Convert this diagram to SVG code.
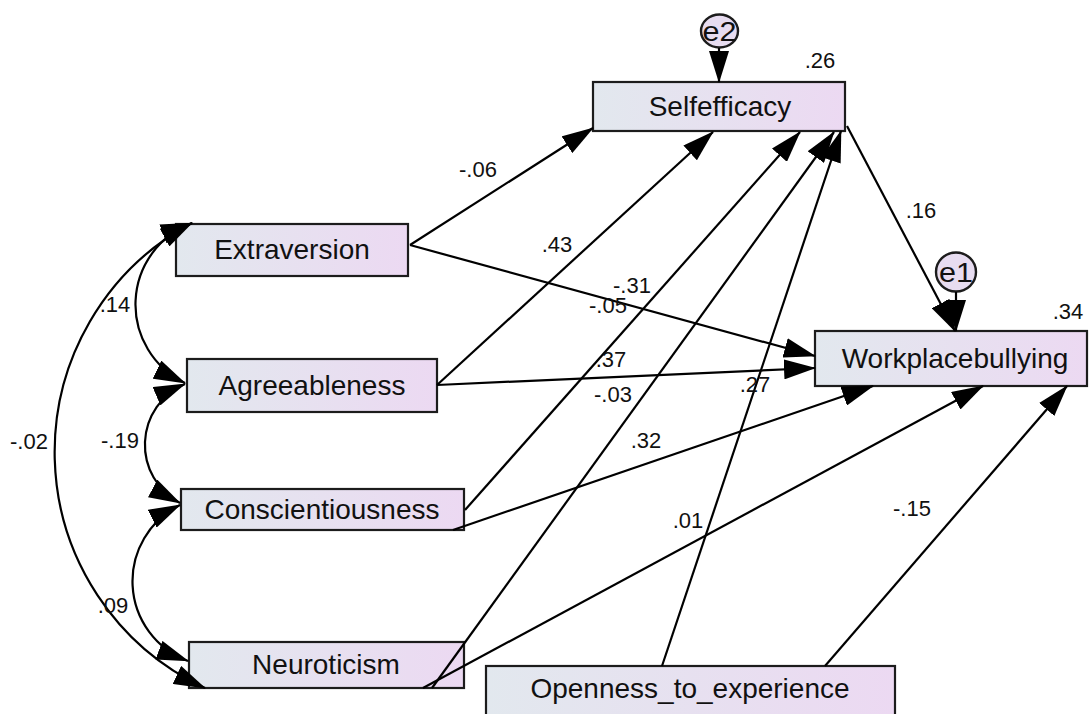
<svg xmlns="http://www.w3.org/2000/svg" width="1090" height="714" viewBox="0 0 1090 714">
<defs>
<linearGradient id="boxfill" x1="0" y1="0" x2="1" y2="0">
<stop offset="0" stop-color="#e2e8ee"/>
<stop offset="1" stop-color="#ecd9f2"/>
</linearGradient>
<marker id="ah" viewBox="0 0 32 20" refX="31" refY="10" markerWidth="32" markerHeight="20" markerUnits="userSpaceOnUse" orient="auto-start-reverse">
<path d="M0,0 L32,10 L0,20 z" fill="#000"/>
</marker>
<style>
.box{fill:url(#boxfill);stroke:#1c1c1c;stroke-width:2.2}
.err{fill:#e7dcf0;stroke:#1c1c1c;stroke-width:2.4}
.lbl{font-family:"Liberation Sans",Arial,sans-serif;font-size:28px;fill:#111;text-anchor:middle}
.num{font-family:"Liberation Sans",Arial,sans-serif;font-size:22px;fill:#111;text-anchor:middle}
.elbl{font-family:"Liberation Sans",Arial,sans-serif;font-size:27px;fill:#111;text-anchor:middle}
.path{fill:none;stroke:#000;stroke-width:2.2;marker-end:url(#ah)}
.cov{fill:none;stroke:#000;stroke-width:2.2;marker-start:url(#ah);marker-end:url(#ah)}
</style>
</defs>
<rect width="1090" height="714" fill="#fff"/>

<g id="e2">
<ellipse class="err" cx="719.5" cy="31" rx="18.5" ry="16.5"/>
<text class="elbl" x="719.5" y="41" textLength="34" lengthAdjust="spacingAndGlyphs">e2</text>
</g>
<g id="e1">
<ellipse class="err" cx="956" cy="272" rx="20" ry="19.5"/>
<text class="elbl" x="956" y="282" textLength="34" lengthAdjust="spacingAndGlyphs">e1</text>
</g>

<g id="Selfefficacy">
<rect class="box" x="593" y="82" width="252" height="49"/>
<text class="lbl" x="720" y="116">Selfefficacy</text>
<text class="num" x="820" y="68">.26</text>
</g>
<g id="Extraversion">
<rect class="box" x="176" y="224" width="232" height="52"/>
<text class="lbl" x="292" y="259">Extraversion</text>
</g>
<g id="Agreeableness">
<rect class="box" x="187" y="359" width="250" height="53"/>
<text class="lbl" x="312" y="395">Agreeableness</text>
</g>
<g id="Conscientiousness">
<rect class="box" x="181" y="489" width="283" height="41"/>
<text class="lbl" x="322" y="519">Conscientiousness</text>
</g>
<g id="Neuroticism">
<rect class="box" x="189" y="642" width="275" height="46"/>
<text class="lbl" x="326" y="674">Neuroticism</text>
</g>
<g id="Openness_to_experience">
<rect class="box" x="486" y="666" width="409" height="60"/>
<text class="lbl" x="690" y="698">Openness_to_experience</text>
</g>
<g id="Workplacebullying">
<rect class="box" x="815" y="331" width="272" height="55"/>
<text class="lbl" x="955" y="368">Workplacebullying</text>
<text class="num" x="1068" y="319">.34</text>
</g>

<g id="connectors">
<path class="cov" d="M192,223 A87,87 0 0 0 185,383"/>
<path class="cov" d="M185,384 A66,66 0 0 0 180,503"/>
<path class="cov" d="M180,505 A85,85 0 0 0 188,661"/>
<path class="cov" d="M192,223 A260,260 0 0 0 205,688"/>
<line class="path" x1="410" y1="245" x2="593" y2="128"/>
<line class="path" x1="410" y1="245" x2="815" y2="356"/>
<line class="path" x1="437" y1="385" x2="713" y2="132"/>
<line class="path" x1="437" y1="385" x2="815" y2="368"/>
<line class="path" x1="465" y1="510" x2="800" y2="132"/>
<line class="path" x1="453" y1="530" x2="873" y2="386"/>
<line class="path" x1="432" y1="688" x2="834" y2="132"/>
<line class="path" x1="423" y1="688" x2="983" y2="386"/>
<line class="path" x1="662" y1="666" x2="841" y2="131"/>
<line class="path" x1="825" y1="666" x2="1067" y2="386"/>
<line class="path" x1="847" y1="126" x2="955" y2="331"/>
<line class="path" x1="719" y1="48" x2="719" y2="82"/>
<line class="path" x1="956" y1="292" x2="956" y2="331"/>
<text class="num" x="478" y="177">-.06</text>
<text class="num" x="557" y="252">.43</text>
<text class="num" x="632" y="293">-.31</text>
<text class="num" x="608" y="313">-.05</text>
<text class="num" x="611" y="367">.37</text>
<text class="num" x="613" y="402">-.03</text>
<text class="num" x="755" y="392">.27</text>
<text class="num" x="646" y="448">.32</text>
<text class="num" x="688" y="528">.01</text>
<text class="num" x="912" y="516">-.15</text>
<text class="num" x="921" y="218">.16</text>
<text class="num" x="115" y="312">.14</text>
<text class="num" x="120" y="448">-.19</text>
<text class="num" x="29" y="449">-.02</text>
<text class="num" x="113" y="613">.09</text>
</g>
</svg>
